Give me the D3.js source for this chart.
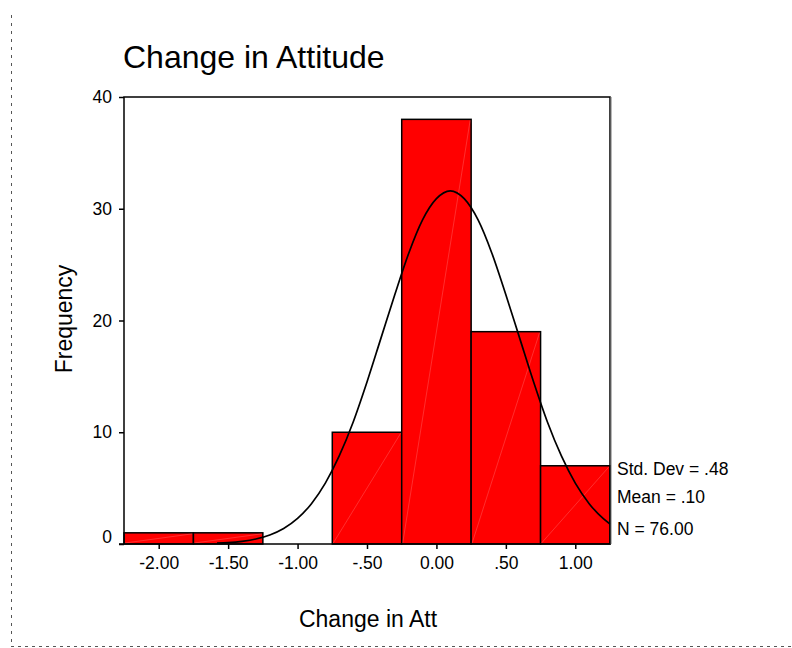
<!DOCTYPE html>
<html>
<head>
<meta charset="utf-8">
<script src="https://cdn.jsdelivr.net/npm/d3@7"></script>
<style>
  body { margin: 0; background: #fff; }
  svg { display: block; font-family: "Liberation Sans", Arial, Helvetica, sans-serif; }
  .tick text { fill: #000; }
  .tick line { stroke: #000; stroke-width: 1.5; }
</style>
</head>
<body>
<svg id="chart"></svg>
<script>
// histogram bins (left edges, width .5) and counts
const binStarts = [-2.25, -1.75, -1.25, -0.75, -0.25, 0.25, 0.75];
const binWidth = 0.5;
const counts = [1, 1, 0, 10, 38, 19, 7];

// fitted normal curve
const curveX = [-1.58, -1.5, -1.4, -1.3, -1.2, -1.1, -1.0, -0.9, -0.8, -0.7, -0.6, -0.5,
  -0.4, -0.3, -0.2, -0.1, 0.0, 0.1, 0.2, 0.3, 0.4, 0.5, 0.6, 0.7, 0.8, 0.9, 1.0, 1.1, 1.2, 1.25];
const curveY = [0.07, 0.12, 0.24, 0.45, 0.81, 1.39, 2.29, 3.61, 5.45, 7.88, 10.9, 14.5,
  18.4, 22.3, 26.0, 29.0, 30.9, 31.6, 30.9, 29.0, 26.0, 22.3, 18.4, 14.5, 10.9, 7.88, 5.45, 3.61, 2.29, 1.79];

// axis ticks
const xTicks = [-2, -1.5, -1, -0.5, 0, 0.5, 1];
const xTickLabels = ['-2.00', '-1.50', '-1.00', '-.50', '0.00', '.50', '1.00'];
const yTicks = [0, 10, 20, 30, 40];

const statLines = ['Std. Dev = .48', 'Mean = .10', 'N = 76.00'];

const fullWidth = 792;
const fullHeight = 648;
const plot = { left: 124, right: 610, top: 97, bottom: 544 };

const svg = d3.select('#chart')
    .attr('width', fullWidth)
    .attr('height', fullHeight);

const x = d3.scaleLinear()
    .domain([-2.25, 1.25])
    .range([plot.left, plot.right]);

const y = d3.scaleLinear()
    .domain([0, 40])
    .range([plot.bottom, plot.top]);

// dotted page border (left and bottom)
svg.append('line')
    .attr('x1', 11.5).attr('x2', 11.5)
    .attr('y1', 15).attr('y2', 645)
    .attr('stroke', '#555')
    .attr('stroke-dasharray', '3,5');

svg.append('line')
    .attr('x1', 11).attr('x2', fullWidth)
    .attr('y1', 646.5).attr('y2', 646.5)
    .attr('stroke', '#555')
    .attr('stroke-dasharray', '3,4');

// title
svg.append('text')
    .attr('x', 123)
    .attr('y', 68)
    .style('font-size', '32px')
    .text('Change in Attitude');

// bars
const bars = svg.append('g');
binStarts.forEach((b, i) => {
  if (!counts[i]) return;
  const x0 = x(b);
  const x1 = x(b + binWidth);
  bars.append('rect')
      .attr('x', x0)
      .attr('y', y(counts[i]))
      .attr('width', x1 - x0)
      .attr('height', y(0) - y(counts[i]))
      .attr('fill', '#ff0000')
      .attr('stroke', '#000')
      .attr('stroke-width', 1.5);
  // faint diagonal rendering artefact
  bars.append('line')
      .attr('x1', x0 + 1).attr('y1', y(0) - 1)
      .attr('x2', x1 - 1).attr('y2', y(counts[i]) + 1)
      .attr('stroke', '#fff')
      .attr('stroke-opacity', 0.3)
      .attr('stroke-width', 0.6);
});

// normal curve
const line = d3.line()
    .x((d, i) => x(curveX[i]))
    .y(d => y(d))
    .curve(d3.curveMonotoneX);

svg.append('path')
    .datum(curveY)
    .attr('d', line)
    .attr('fill', 'none')
    .attr('stroke', '#000')
    .attr('stroke-width', 1.7);

// frame
svg.append('rect')
    .attr('x', plot.left)
    .attr('y', plot.top)
    .attr('width', plot.right - plot.left)
    .attr('height', plot.bottom - plot.top)
    .attr('fill', 'none')
    .attr('stroke', '#000')
    .attr('stroke-width', 1.5);

svg.append('line')
    .attr('x1', plot.right + 1.2).attr('x2', plot.right + 1.2)
    .attr('y1', plot.top).attr('y2', plot.bottom)
    .attr('stroke', '#999')
    .attr('stroke-width', 1);

// x and y axes
const xAxis = svg.append('g')
    .attr('transform', `translate(0, ${plot.bottom})`)
    .call(d3.axisBottom(x)
      .tickValues(xTicks)
      .tickFormat((d, i) => xTickLabels[i])
      .tickSize(5)
      .tickPadding(8));
xAxis.select('.domain').remove();
xAxis.selectAll('text').style('font-size', '17.5px').attr('font-family', null);

const yAxis = svg.append('g')
    .attr('transform', `translate(${plot.left}, 0)`)
    .call(d3.axisLeft(y)
      .tickValues(yTicks)
      .tickFormat(d3.format('d'))
      .tickSize(5)
      .tickPadding(7));
yAxis.select('.domain').remove();
yAxis.selectAll('text').style('font-size', '17.5px').attr('font-family', null);
// the zero label sits a little above its tick
yAxis.selectAll('.tick text').filter(d => d === 0).attr('dy', '-0.1em');

svg.append('line')
    .attr('x1', plot.left - 5).attr('x2', plot.left)
    .attr('y1', plot.bottom).attr('y2', plot.bottom)
    .attr('stroke', '#000')
    .attr('stroke-width', 1.5);

// axis titles
svg.append('text')
    .attr('x', 368)
    .attr('y', 627)
    .attr('text-anchor', 'middle')
    .style('font-size', '23px')
    .text('Change in Att');

svg.append('text')
    .attr('transform', 'translate(72, 319) rotate(-90)')
    .attr('text-anchor', 'middle')
    .style('font-size', '23px')
    .text('Frequency');

// summary statistics
svg.append('g')
  .selectAll('text')
  .data(statLines)
  .join('text')
    .attr('x', 617)
    .attr('y', (d, i) => [475, 503, 535][i])
    .style('font-size', '17.5px')
    .text(d => d);
</script>
</body>
</html>
